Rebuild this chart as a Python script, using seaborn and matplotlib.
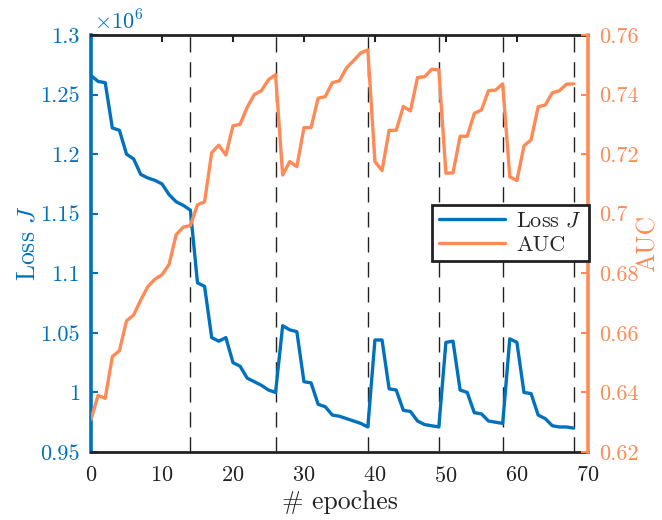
import numpy as np
import pandas as pd
import matplotlib
matplotlib.use("Agg")
import matplotlib.pyplot as plt
from matplotlib.ticker import FuncFormatter
import seaborn as sns

# ===============================
# Data
# ===============================
epochs = list(range(69))

loss_millions = [
    1.266, 1.261, 1.260, 1.222, 1.220, 1.200, 1.196, 1.183, 1.180, 1.178,
    1.175, 1.166, 1.160, 1.157, 1.153, 1.092, 1.089, 1.046, 1.043, 1.046,
    1.025, 1.022, 1.012, 1.009, 1.006, 1.002, 1.000, 1.056, 1.0525, 1.051,
    1.009, 1.008, 0.990, 0.988, 0.981, 0.980, 0.978, 0.976, 0.974, 0.971,
    1.044, 1.044, 1.003, 1.002, 0.985, 0.984, 0.976, 0.973, 0.972, 0.971,
    1.042, 1.043, 1.002, 1.000, 0.983, 0.982, 0.976, 0.975, 0.974, 1.045,
    1.042, 1.000, 0.999, 0.981, 0.978, 0.972, 0.971, 0.971, 0.970,
]

auc = [
    0.631, 0.639, 0.638, 0.652, 0.654, 0.664, 0.666, 0.671, 0.6755, 0.678,
    0.6795, 0.683, 0.693, 0.6955, 0.696, 0.703, 0.704, 0.7205, 0.723, 0.7197,
    0.7295, 0.730, 0.7357, 0.740, 0.7413, 0.745, 0.7467, 0.713, 0.7175, 0.7158,
    0.7289, 0.7289, 0.7388, 0.7393, 0.744, 0.7446, 0.749, 0.7514, 0.754, 0.755,
    0.7175, 0.7145, 0.728, 0.728, 0.736, 0.7345, 0.7457, 0.746, 0.7485, 0.7483,
    0.7136, 0.7137, 0.726, 0.726, 0.7337, 0.7348, 0.7413, 0.7415, 0.7436, 0.7124,
    0.7111, 0.7228, 0.7248, 0.7359, 0.7365, 0.7406, 0.7413, 0.7435, 0.7436,
]

restart_epochs = [14, 26, 39, 49, 58, 68]

x_ticks = [0, 10, 20, 30, 40, 50, 60, 70]
loss_ticks = [0.95, 1.0, 1.05, 1.1, 1.15, 1.2, 1.25, 1.3]
auc_ticks = [0.62, 0.64, 0.66, 0.68, 0.70, 0.72, 0.74, 0.76]

df = pd.DataFrame({
    "epoch": epochs,
    "loss": np.array(loss_millions) * 1e6,
    "auc": auc,
})

# ===============================
# Style
# ===============================
blue = "#0072BD"
orange = "#FF8A55"

sns.set_style("white")
plt.rcParams["font.family"] = ["cmr10", "DejaVu Serif"]
plt.rcParams["mathtext.fontset"] = "cm"
plt.rcParams["axes.unicode_minus"] = False
plt.rcParams["axes.formatter.use_mathtext"] = True

fs = 16
lfs = 18.5

fig = plt.figure(figsize=(6.62, 5.2), dpi=100)
ax = fig.add_axes([0.1375, 0.1308, 0.7505, 0.8019])
ax2 = ax.twinx()

# ===============================
# Lines
# ===============================
for xe in restart_epochs:
    ax.axvline(xe, color="#222222", lw=1.0, dashes=(11, 7), zorder=1)

sns.lineplot(data=df, x="epoch", y="loss", ax=ax, color=blue, lw=2.4,
             label="Loss $J$", legend=False, zorder=3)
sns.lineplot(data=df, x="epoch", y="auc", ax=ax2, color=orange, lw=2.4,
             label="AUC", legend=False, zorder=3)

# ===============================
# Axes
# ===============================
ax.set_xlim(0, 70)
ax.set_ylim(0.95e6, 1.3e6)
ax2.set_ylim(0.62, 0.76)

ax.set_xticks(x_ticks)
ax.set_yticks([v * 1e6 for v in loss_ticks])
ax2.set_yticks(auc_ticks)
ax.yaxis.set_major_formatter(FuncFormatter(lambda v, p: f"{v / 1e6:g}"))
ax2.yaxis.set_major_formatter(FuncFormatter(lambda v, p: f"{v:g}"))

ax.tick_params(axis="x", direction="in", length=5, width=1.5, top=True,
               labelsize=fs, colors="#222222", pad=10)
ax.tick_params(axis="y", direction="in", length=5, width=1.5, left=True,
               right=False, labelsize=fs, colors=blue, pad=8)
ax2.tick_params(axis="y", direction="in", length=5, width=1.5, right=True,
                labelsize=fs, colors=orange, pad=8)

for a in (ax, ax2):
    a.set_facecolor("none")
    for s in a.spines.values():
        s.set_linewidth(2.0)
ax.spines["top"].set_color("#222222")
ax.spines["bottom"].set_color("#222222")
ax.spines["left"].set_color(blue)
ax.spines["left"].set_linewidth(2.6)
ax.spines["right"].set_visible(False)
ax2.spines["left"].set_visible(False)
ax2.spines["top"].set_visible(False)
ax2.spines["bottom"].set_visible(False)
ax2.spines["right"].set_color(orange)
ax2.spines["right"].set_linewidth(2.6)

ax.set_xlabel("# epoches", fontsize=lfs, color="#222222", labelpad=3)
ax.set_ylabel("Loss $J$", fontsize=lfs, color=blue)
ax.yaxis.set_label_coords(-0.103, 0.5)
ax2.set_ylabel("AUC", fontsize=lfs, color=orange, rotation=90)
ax2.yaxis.set_label_coords(1.096, 0.5)

ax.text(0.005, 1.003, r"$\times10^6$", transform=ax.transAxes, fontsize=fs,
        color=blue, ha="left", va="bottom")

# ===============================
# Legend
# ===============================
h1, l1 = ax.get_legend_handles_labels()
h2, l2 = ax2.get_legend_handles_labels()
leg = ax2.legend(h1 + h2, l1 + l2, loc="center",
                 bbox_to_anchor=(0.771, 0.552), bbox_transform=fig.transFigure,
                 fontsize=16, frameon=True, fancybox=False, handlelength=3.0,
                 borderpad=0.3, labelspacing=0.2, handletextpad=0.5)
leg.get_frame().set_edgecolor("#222222")
leg.get_frame().set_linewidth(2.0)
leg.get_frame().set_facecolor("white")
leg.get_frame().set_alpha(1)

fig.savefig("out.png", dpi=100)
